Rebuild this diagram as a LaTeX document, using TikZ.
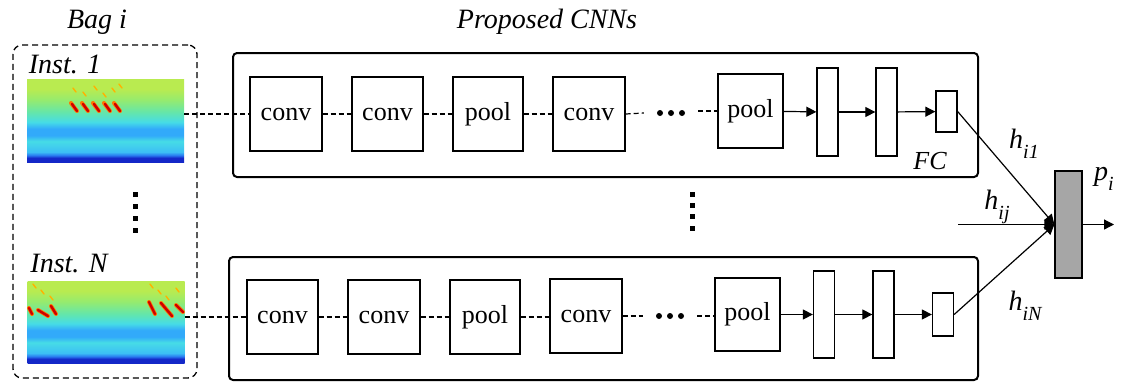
\documentclass[tikz,border=0pt]{standalone}
\usepackage{fontspec}
\setmainfont{Liberation Serif}
\newfontfamily\tnr{Liberation Serif}
\usetikzlibrary{arrows.meta}
\definecolor{sDark}{RGB}{20,40,200}
\definecolor{sBlue}{RGB}{40,120,240}
\definecolor{sLBlue}{RGB}{60,190,245}
\definecolor{sBand}{RGB}{50,170,250}
\definecolor{sCyan}{RGB}{70,220,230}
\definecolor{sAqua}{RGB}{100,230,170}
\definecolor{sGreen}{RGB}{150,235,110}
\definecolor{sYellow}{RGB}{185,235,80}
\definecolor{outgrey}{RGB}{166,166,166}
\pgfdeclareverticalshading{specshade}{100bp}{color(0bp)=(sDark); color(27.5bp)=(sDark); color(29bp)=(sBlue); color(31bp)=(sLBlue); color(37.5bp)=(sCyan); color(41bp)=(sBand); color(45bp)=(sBand); color(49bp)=(sCyan); color(55bp)=(sAqua); color(62.5bp)=(sGreen); color(69bp)=(sYellow); color(100bp)=(sYellow)}
\newcommand{\lowsub}[1]{\raisebox{-0.35em}{\fontsize{20}{20}\selectfont\tnr\itshape #1}}
\begin{document}
\begin{tikzpicture}[x=1pt,y=-1pt,
  lbox/.style={draw, line width=1.3pt, inner sep=0pt, font=\tnr\fontsize{26}{28}\selectfont},
  fcbox/.style={draw, line width=1.3pt, inner sep=0pt, minimum width=21pt},
  frame/.style={draw, line width=2pt, rounded corners=4pt, inner sep=0pt},
  bag/.style={draw, line width=1.3pt, dashed, dash pattern=on 6pt off 4pt, rounded corners=9pt, inner sep=0pt},
  dashlink/.style={line width=1.2pt, dash pattern=on 5pt off 3pt},
  arr/.style={-{Triangle[length=10pt,width=10pt]}, line width=1.2pt},
  spec/.style={shading=specshade, inner sep=0pt, minimum width=157pt, minimum height=83pt},
  lab/.style={font=\tnr\fontsize{28}{30}\selectfont\itshape, inner sep=0pt},
  hlab/.style={font=\tnr\fontsize{28}{30}\selectfont\itshape, inner sep=0pt},
  redmark/.style={line width=2.4pt, draw=red!80!black, line cap=round},
  ormark/.style={line width=4pt, draw=orange!90!red, line cap=round},
  yelmark/.style={line width=1.4pt, draw=orange!60!yellow, line cap=round}]
\useasboundingbox (0,0) rectangle (1121,381);

% labels
\node[lab] (bagl) at (97,22) {Bag i};
\node[lab] (cnnl) at (547,22) {Proposed CNNs};

% bag
\node[bag, minimum width=184pt, minimum height=333pt] (bag) at (105,211.5) {};
\node[lab] (inst1) at (65,64) {Inst. 1};
\node[lab] (instN) at (69,264) {Inst. N};
\node[spec] (s1) at (105.5,120.5) {};
\node[spec, minimum height=82pt] (s2) at (106,322) {};
% spectrogram 1 marks
\foreach \x in {71,82,93,104,114} {
  \draw[ormark] (\x,103) -- (\x+6,111);
  \draw[redmark] (\x+1,104) -- (\x+6,111);
}
\foreach \x/\y in {73/88,83/92,94/86,103/93,112/88,119/84} {
  \draw[yelmark] (\x,\y) -- (\x+3,\y+4);
}
% spectrogram 2 marks
\foreach \a/\b/\c/\d in {29/308/32/314, 38/310/48/316, 51/306/56/314, 149/302/155/314, 161/303/172/316, 176/305/183/312} {
  \draw[ormark] (\a,\b) -- (\c,\d);
  \draw[redmark] (\a,\b) -- (\c,\d);
}
\foreach \x/\y in {33/284,41/290,50/296,150/284,158/290,166/296,176/288} {
  \draw[yelmark] (\x,\y) -- (\x+3,\y+4);
}
\foreach \y in {192,204,216,228} \fill (133,\y) rectangle (138,\y+5);

% frames
\node[frame, minimum width=745pt, minimum height=124pt] (f1) at (605.5,115) {};
\node[frame, minimum width=749pt, minimum height=123pt] (f2) at (603.5,318.5) {};

% top row
\node[lbox, minimum width=72pt, minimum height=74pt] (t1) at (286,114) {conv};
\node[lbox, minimum width=71pt, minimum height=74pt] (t2) at (387.5,114) {conv};
\node[lbox, minimum width=70pt, minimum height=74pt] (t3) at (488,114) {pool};
\node[lbox, minimum width=72pt, minimum height=74pt] (t4) at (589,114) {conv};
\node[inner sep=0pt, minimum width=54pt, minimum height=8pt] (td) at (671,113) {};
\node[lbox, minimum width=65pt, minimum height=74pt] (t5) at (750.5,111) {pool};
\node[fcbox, minimum height=88pt] (t6) at (827.5,112) {};
\node[fcbox, minimum height=88pt] (t7) at (886.5,112) {};
\node[fcbox, minimum height=41pt] (t8) at (946.5,111.5) {};
\foreach \x in {660,671,682} \fill (\x,113) circle (3pt);

% bottom row
\node[lbox, minimum width=71pt, minimum height=74pt] (b1) at (282.5,317) {conv};
\node[lbox, minimum width=72pt, minimum height=74pt] (b2) at (384,317) {conv};
\node[lbox, minimum width=70pt, minimum height=74pt] (b3) at (485,317) {pool};
\node[lbox, minimum width=72pt, minimum height=74pt] (b4) at (586,316) {conv};
\node[inner sep=0pt, minimum width=54pt, minimum height=8pt] (bd) at (670,316) {};
\node[lbox, minimum width=65pt, minimum height=73pt] (b5) at (747.5,314.5) {pool};
\node[fcbox, minimum height=87pt] (b6) at (824,314.5) {};
\node[fcbox, minimum height=87pt] (b7) at (883.5,314.5) {};
\node[fcbox, minimum height=43pt] (b8) at (943,314.5) {};
\foreach \x in {659,670,681} \fill (\x,316) circle (3pt);

% middle dots
\foreach \y in {192,203,214,226} \fill (690,\y) rectangle (695,\y+5);

% output
\node[draw, line width=1.3pt, fill=outgrey, minimum width=27pt, minimum height=107pt, inner sep=0pt] (out) at (1068.5,224.5) {};
\coordinate (hin) at (958,224.5);
\coordinate (pout) at (1114,224.5);

% connectors top
\draw[dashlink] (s1.east |- t1.west) -- (t1.west);
\draw[dashlink] (t1) -- (t2);
\draw[dashlink] (t2) -- (t3);
\draw[dashlink] (t3) -- (t4);
\draw[dashlink] (t4.east) -- (td.west);
\draw[dashlink] (td.east |- t5.west) -- (t5.west);
\draw[arr] (t5) -- (t6);
\draw[arr] (t6) -- (t7);
\draw[arr] (t7) -- (t8);
% connectors bottom
\draw[dashlink] (s2.east |- b1.west) -- (b1.west);
\draw[dashlink] (b1) -- (b2);
\draw[dashlink] (b2) -- (b3);
\draw[dashlink] (b3.east) -- (b4.west |- b3.east);
\draw[dashlink] (b4.east) -- (bd.west);
\draw[dashlink] (bd.east) -- (b5.west |- bd.east);
\draw[arr] (b5) -- (b6);
\draw[arr] (b6) -- (b7);
\draw[arr] (b7) -- (b8);
% to output
\draw[arr] (t8.east) -- (out.west);
\draw[arr] (b8.east) -- (out.west);
\draw[arr] (hin) -- (out.west);
\draw[arr] (out.east) -- (pout);

% output labels
\node[font=\tnr\fontsize{26}{28}\selectfont\itshape, inner sep=0pt] (fcl) at (930,161) {FC};
\node[hlab] (h1) at (1024,144) {h\lowsub{i1}};
\node[hlab] (hj) at (997,207) {h\lowsub{ij}};
\node[hlab] (hN) at (1025,306) {h\lowsub{iN}};
\node[hlab] (pl) at (1104,179) {p\lowsub{i}};
\end{tikzpicture}
\end{document}
